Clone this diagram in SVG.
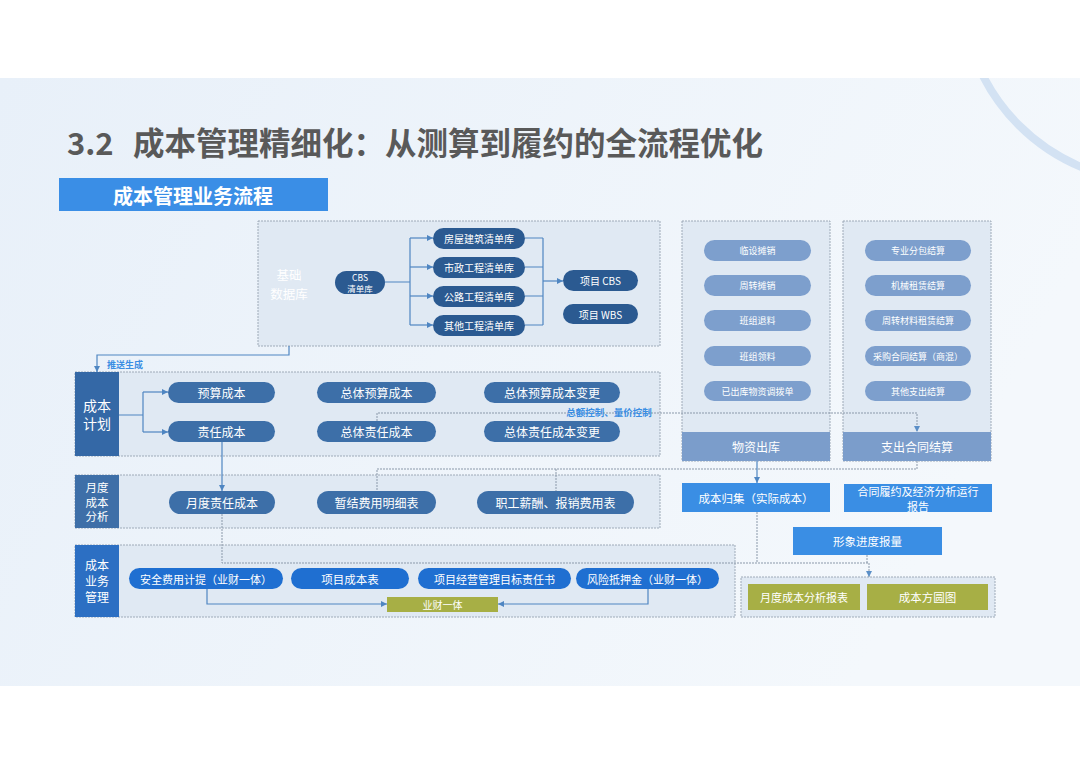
<svg xmlns="http://www.w3.org/2000/svg" width="1080" height="764" viewBox="0 0 1080 764">
<defs>
<linearGradient id="bg" x1="0" y1="0" x2="1" y2="0.3">
<stop offset="0" stop-color="#e8f0f9"/>
<stop offset="1" stop-color="#f4f8fc"/>
</linearGradient>
<clipPath id="panel"><rect x="0" y="78" width="1080" height="608"/></clipPath>
<marker id="ar" markerUnits="userSpaceOnUse" markerWidth="7" markerHeight="7" refX="6" refY="3" orient="auto">
<path d="M0,0 L6,3 L0,6 z" fill="#4f86c2"/>
</marker>
<marker id="ag" markerUnits="userSpaceOnUse" markerWidth="7" markerHeight="7" refX="6" refY="3" orient="auto">
<path d="M0,0 L6,3 L0,6 z" fill="#5b8fc7"/>
</marker>
</defs>
<style>
text{font-family:"Noto Sans CJK SC","Noto Sans",sans-serif;}
.c{text-anchor:middle;dominant-baseline:central;fill:#fff;}
.sec{fill:#e0e9f3;stroke:#9eaab8;stroke-width:1;stroke-dasharray:2 1;}
.dk{fill:#2b5a91;}
.md{fill:#3d6fa8;}
.br{fill:#1f6fd1;}
.lt{fill:#7d9fcd;}
.bl{fill:#3a8ee4;}
.gr{fill:#a7af45;}
.s{fill:none;stroke:#4f86c2;stroke-width:1.2;}
.d{fill:none;stroke:#8b99aa;stroke-width:1;stroke-dasharray:2 1;}
</style>
<rect width="1080" height="764" fill="#ffffff"/>
<rect x="0" y="78" width="1080" height="608" fill="url(#bg)"/>
<circle cx="1156" cy="-12" r="194" fill="none" stroke="#d3e2f3" stroke-width="8" clip-path="url(#panel)"/>
<text x="67" y="155" font-size="31" font-weight="bold" fill="#595959">3.2</text>
<text x="133" y="155" font-size="31.5" font-weight="bold" fill="#595959">成本管理精细化：从测算到履约的全流程优化</text>
<g id="header"><rect x="59" y="178" width="269" height="33" fill="#3a8ee6"/><text x="193" y="195" class="c" font-size="20" font-weight="bold">成本管理业务流程</text></g>

<g id="sections">
<rect id="sec-base" class="sec" x="258" y="221" width="402" height="125"/>
<rect id="sec-plan" class="sec" x="75" y="372" width="585" height="84"/>
<rect id="sec-month" class="sec" x="75" y="475" width="585" height="53"/>
<rect id="sec-biz" class="sec" x="75" y="545" width="660" height="72"/>
<rect id="sec-mat" class="sec" x="682" y="221" width="148" height="240" fill="#eaf1f8"/>
<rect id="sec-exp" class="sec" x="843" y="221" width="148" height="240" fill="#eaf1f8"/>
<rect id="sec-out" class="sec" x="741" y="577" width="254" height="40" fill="#eef3f6"/>
</g>

<g id="connectors">
<path class="s" d="M385,282 H410 M410,238 V325 M525,238 H543 M525,267 H543 M525,296 H543 M525,325 H543 M543,238 V325"/>
<path class="s" marker-end="url(#ar)" d="M410,238 H433"/>
<path class="s" marker-end="url(#ar)" d="M410,267 H433"/>
<path class="s" marker-end="url(#ar)" d="M410,296 H433"/>
<path class="s" marker-end="url(#ar)" d="M410,325 H433"/>
<path class="s" marker-end="url(#ar)" d="M543,281 H563"/>
<path class="s" marker-end="url(#ar)" d="M289,346 V355 H97 V372"/>
<path class="s" d="M119,415 H143 M143,392 V432"/>
<path class="s" marker-end="url(#ar)" d="M143,392 H168"/>
<path class="s" marker-end="url(#ar)" d="M143,432 H168"/>
<path class="d" marker-end="url(#ag)" d="M377,421 V413 H917 V432"/>
<path class="d" d="M917,461 V469 H377 V491 M556,469 V491"/>
<path class="s" marker-end="url(#ar)" d="M222,442 V491"/>
<path class="d" marker-end="url(#ag)" d="M222,514 V563 H869 V577"/>
<path class="d" d="M757,512 V563 M867,555 V563"/>
<path class="s" marker-end="url(#ar)" d="M757,461 V483"/>
<path class="s" marker-end="url(#ar)" d="M207,589 V604 H387"/>
<path class="s" marker-end="url(#ar)" d="M648,589 V604 H498"/>
<text x="125" y="364" class="c" font-size="9" font-weight="bold" style="fill:#3b8ee3">推送生成</text>
<text x="609" y="412" class="c" font-size="9.5" font-weight="bold" style="fill:#3b8ee3">总额控制、量价控制</text>
</g>

<g id="base-label"><text x="289" y="274" class="c" font-size="12.5">基础</text><text x="289" y="293" class="c" font-size="12.5">数据库</text></g>
<g id="cbs-lib"><rect class="dk" x="335" y="271" width="50" height="23" rx="11.5"/><text x="360" y="277" class="c" font-size="8.5">CBS</text><text x="360" y="288" class="c" font-size="8.5">清单库</text></g>
<g id="lib1"><rect class="dk" x="433" y="228" width="92" height="21" rx="10.5"/><text x="479" y="238.5" class="c" font-size="10">房屋建筑清单库</text></g>
<g id="lib2"><rect class="dk" x="433" y="257" width="92" height="21" rx="10.5"/><text x="479" y="267.5" class="c" font-size="10">市政工程清单库</text></g>
<g id="lib3"><rect class="dk" x="433" y="286" width="92" height="21" rx="10.5"/><text x="479" y="296.5" class="c" font-size="10">公路工程清单库</text></g>
<g id="lib4"><rect class="dk" x="433" y="315" width="92" height="21" rx="10.5"/><text x="479" y="325.5" class="c" font-size="10">其他工程清单库</text></g>
<g id="proj-cbs"><rect class="dk" x="563" y="270" width="75" height="21" rx="10.5"/><text x="600.5" y="280.5" class="c" font-size="10">项目 CBS</text></g>
<g id="proj-wbs"><rect class="dk" x="563" y="304" width="75" height="20" rx="10"/><text x="600.5" y="314" class="c" font-size="10">项目 WBS</text></g>

<g id="plan-label"><rect x="75" y="372" width="44" height="84" fill="#3468a6"/><text x="97" y="405" class="c" font-size="14">成本</text><text x="97" y="423" class="c" font-size="14">计划</text></g>
<g id="budget"><rect class="md" x="168" y="382" width="107" height="21" rx="10.5"/><text x="221.5" y="392.5" class="c" font-size="12">预算成本</text></g>
<g id="resp"><rect class="md" x="168" y="421" width="107" height="21" rx="10.5"/><text x="221.5" y="431.5" class="c" font-size="12">责任成本</text></g>
<g id="total-budget"><rect class="md" x="317" y="382" width="119" height="21" rx="10.5"/><text x="376.5" y="392.5" class="c" font-size="12">总体预算成本</text></g>
<g id="total-resp"><rect class="md" x="317" y="421" width="119" height="21" rx="10.5"/><text x="376.5" y="431.5" class="c" font-size="12">总体责任成本</text></g>
<g id="budget-change"><rect class="md" x="484" y="382" width="136" height="21" rx="10.5"/><text x="552" y="392.5" class="c" font-size="12">总体预算成本变更</text></g>
<g id="resp-change"><rect class="md" x="484" y="421" width="136" height="21" rx="10.5"/><text x="552" y="431.5" class="c" font-size="12">总体责任成本变更</text></g>

<g id="month-label"><rect x="75" y="475" width="44" height="53" fill="#3e6fa8"/><text x="97" y="487" class="c" font-size="11.5">月度</text><text x="97" y="501.5" class="c" font-size="11.5">成本</text><text x="97" y="516" class="c" font-size="11.5">分析</text></g>
<g id="month-resp"><rect class="md" x="169" y="491" width="106" height="23" rx="11.5"/><text x="222" y="502.5" class="c" font-size="12">月度责任成本</text></g>
<g id="temp-settle"><rect class="md" x="317" y="491" width="119" height="23" rx="11.5"/><text x="376.5" y="502.5" class="c" font-size="12">暂结费用明细表</text></g>
<g id="salary"><rect class="md" x="477" y="491" width="157" height="23" rx="11.5"/><text x="555.5" y="502.5" class="c" font-size="12">职工薪酬、报销费用表</text></g>

<g id="biz-label"><rect x="75" y="545" width="44" height="72" fill="#2c6fc3"/><text x="97" y="564" class="c" font-size="12">成本</text><text x="97" y="580" class="c" font-size="12">业务</text><text x="97" y="596" class="c" font-size="12">管理</text></g>
<g id="safety"><rect class="br" x="129" y="568" width="154" height="21" rx="10.5"/><text x="206" y="578.5" class="c" font-size="11">安全费用计提（业财一体）</text></g>
<g id="proj-cost"><rect class="br" x="291" y="568" width="118" height="21" rx="10.5"/><text x="350" y="578.5" class="c" font-size="11.5">项目成本表</text></g>
<g id="target"><rect class="br" x="418" y="568" width="153" height="21" rx="10.5"/><text x="494.5" y="578.5" class="c" font-size="11">项目经营管理目标责任书</text></g>
<g id="risk"><rect class="br" x="576" y="568" width="143" height="21" rx="10.5"/><text x="647.5" y="578.5" class="c" font-size="11">风险抵押金（业财一体）</text></g>
<g id="ycyt"><rect class="gr" x="387" y="597" width="111" height="15"/><text x="442.5" y="604.5" class="c" font-size="10">业财一体</text></g>

<g id="m1"><rect class="lt" x="704" y="240" width="107" height="21" rx="10.5"/><text x="757.5" y="250.5" class="c" font-size="9">临设摊销</text></g>
<g id="m2"><rect class="lt" x="704" y="275" width="107" height="21" rx="10.5"/><text x="757.5" y="285.5" class="c" font-size="9">周转摊销</text></g>
<g id="m3"><rect class="lt" x="704" y="310" width="107" height="21" rx="10.5"/><text x="757.5" y="320.5" class="c" font-size="9">班组退料</text></g>
<g id="m4"><rect class="lt" x="704" y="346" width="107" height="20" rx="10"/><text x="757.5" y="356" class="c" font-size="9">班组领料</text></g>
<g id="m5"><rect class="lt" x="704" y="381" width="107" height="20" rx="10"/><text x="757.5" y="391" class="c" font-size="9">已出库物资调拨单</text></g>
<g id="mat-out"><rect x="682" y="432" width="148" height="29" fill="#7b9dcb"/><text x="756" y="446.5" class="c" font-size="12">物资出库</text></g>

<g id="e1"><rect class="lt" x="865" y="240" width="106" height="21" rx="10.5"/><text x="918" y="250.5" class="c" font-size="9">专业分包结算</text></g>
<g id="e2"><rect class="lt" x="865" y="275" width="106" height="21" rx="10.5"/><text x="918" y="285.5" class="c" font-size="9">机械租赁结算</text></g>
<g id="e3"><rect class="lt" x="865" y="310" width="106" height="21" rx="10.5"/><text x="918" y="320.5" class="c" font-size="9">周转材料租赁结算</text></g>
<g id="e4"><rect class="lt" x="865" y="346" width="106" height="20" rx="10"/><text x="918" y="356" class="c" font-size="9">采购合同结算（商混）</text></g>
<g id="e5"><rect class="lt" x="865" y="381" width="106" height="20" rx="10"/><text x="918" y="391" class="c" font-size="9">其他支出结算</text></g>
<g id="exp-settle"><rect x="843" y="432" width="148" height="29" fill="#7b9dcb"/><text x="917" y="446.5" class="c" font-size="12">支出合同结算</text></g>

<g id="collect"><rect class="bl" x="682" y="483" width="148" height="29"/><text x="756" y="497.5" class="c" font-size="11.5">成本归集（实际成本）</text></g>
<g id="report"><rect class="bl" x="844" y="484" width="148" height="28"/><text x="918" y="490.5" class="c" font-size="11">合同履约及经济分析运行</text><text x="918" y="506" class="c" font-size="11">报告</text></g>
<g id="progress"><rect class="bl" x="793" y="527" width="149" height="28"/><text x="867.5" y="541" class="c" font-size="11.5">形象进度报量</text></g>
<g id="month-report"><rect class="gr" x="748" y="584" width="112" height="26"/><text x="804" y="597" class="c" font-size="11">月度成本分析报表</text></g>
<g id="square"><rect class="gr" x="867" y="584" width="121" height="26"/><text x="927.5" y="597" class="c" font-size="11.5">成本方圆图</text></g>
</svg>
